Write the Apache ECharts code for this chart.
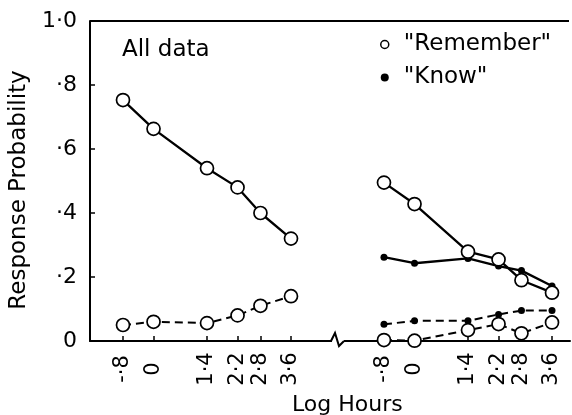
<!DOCTYPE html>
<html><head><meta charset="utf-8">
<script src="https://cdn.jsdelivr.net/npm/echarts@6/dist/echarts.min.js"></script>
<style>html,body{margin:0;padding:0;background:#fff}#c{width:572px;height:415px}</style>
</head><body><div id="c"></div>
<script>
const xTicks = [-0.8, 0, 1.4, 2.2, 2.8, 3.6];
const xTickLabels = ['-·8', '0', '1·4', '2·2', '2·8', '3·6'];
const yTickLabels = ['0', '·2', '·4', '·6', '·8', '1·0'];
// left panel ("All data")
const leftRemember = [0.753, 0.663, 0.54, 0.48, 0.40, 0.32];
const leftRememberLow = [0.05, 0.06, 0.056, 0.08, 0.11, 0.14];
// right panel
const rightRemember = [0.495, 0.428, 0.279, 0.255, 0.19, 0.151];
const rightKnow = [0.262, 0.243, 0.258, 0.234, 0.22, 0.172];
const rightKnowLow = [0.052, 0.063, 0.063, 0.083, 0.095, 0.095];
const rightRememberLow = [0.003, 0.001, 0.034, 0.053, 0.024, 0.058];

const FONT = 'DejaVu Sans';
const pairs = arr => xTicks.map((x, i) => [x, arr[i]]);
const xLabel = v => {
  const i = xTicks.findIndex(t => Math.abs(t - v) < 1e-6);
  return i >= 0 ? xTickLabels[i] : '';
};

function xAxis(gridIndex, min, max) {
  return {
    type: 'value', gridIndex, min, max, position: 'bottom',
    axisLine: { show: true, onZero: false, lineStyle: { color: '#000', width: 2 } },
    axisTick: { show: true, inside: true, length: 5, customValues: xTicks, lineStyle: { color: '#000', width: 1.5 } },
    axisLabel: { show: true, customValues: xTicks, rotate: 90, align: 'center', verticalAlign: 'middle', margin: 28,
      formatter: xLabel, color: '#000', fontSize: 21, fontFamily: FONT },
    splitLine: { show: false }
  };
}

const openSym = { color: '#fff', borderColor: '#000', borderWidth: 1.7 };
const fillSym = { color: '#000', borderColor: '#000', borderWidth: 0 };
function line(name, gi, arr, dashed, open) {
  return {
    type: 'line', name, xAxisIndex: gi, yAxisIndex: gi, data: pairs(arr),
    symbol: 'circle', symbolSize: open ? 13 : 7,
    itemStyle: open ? openSym : fillSym,
    lineStyle: { color: '#000', width: dashed ? 2 : 2.3, type: dashed ? [8, 5] : 'solid' },
    z: open ? 3 : 2
  };
}

const chart = echarts.init(document.getElementById('c'), null, { renderer: 'canvas' });
chart.setOption({
  animation: false,
  backgroundColor: '#fff',
  title: [
    { text: 'All data', left: 117, top: 34, textStyle: { fontSize: 23, fontWeight: 'normal', fontFamily: FONT, color: '#000' } },
    { text: 'Log Hours', left: 287, top: 389, textStyle: { fontSize: 22, fontWeight: 'normal', fontFamily: FONT, color: '#000' } }
  ],
  legend: {
    orient: 'vertical', left: 375, top: 28, itemWidth: 8, itemHeight: 8, itemGap: 10,
    textStyle: { fontSize: 23, fontFamily: FONT, color: '#000', padding: [0, 0, 0, 10] },
    data: [
      { name: '"Remember"', icon: 'circle', itemStyle: { color: '#fff', borderColor: '#000', borderWidth: 1.5 }, lineStyle: { width: 0, opacity: 0 } },
      { name: '"Know"', icon: 'circle', itemStyle: { color: '#000', borderWidth: 0 }, lineStyle: { width: 0, opacity: 0 } }
    ]
  },
  grid: [
    { left: 90, top: 21, width: 243, bottom: 74 },
    { left: 343, top: 21, width: 227, bottom: 74 }
  ],
  xAxis: [xAxis(0, -1.664, 4.70), xAxis(1, -1.873, 4.071)],
  yAxis: [
    {
      type: 'value', gridIndex: 0, min: 0, max: 1, interval: 0.2,
      name: 'Response Probability', nameLocation: 'middle', nameGap: 59,
      nameTextStyle: { fontSize: 23, fontFamily: FONT, color: '#000', padding: [0, 18, 0, 0] },
      axisLine: { show: true, onZero: false, lineStyle: { color: '#000', width: 2 } },
      axisTick: { show: true, inside: true, length: 5, lineStyle: { color: '#000', width: 1.5 } },
      axisLabel: { formatter: (v) => yTickLabels[Math.round(v / 0.2)], color: '#000', fontSize: 22, fontFamily: FONT, margin: 13 },
      splitLine: { show: false }
    },
    { type: 'value', gridIndex: 1, min: 0, max: 1, show: false, splitLine: { show: false } }
  ],
  graphic: [
    { type: 'line', shape: { x1: 90, y1: 21, x2: 569, y2: 21 }, style: { stroke: '#000', lineWidth: 2 } },
    { type: 'rect', shape: { x: 332, y: 330, width: 12, height: 20 }, style: { fill: '#fff' }, z: 50 },
    { type: 'polyline', shape: { points: [[331, 341], [335, 333], [339, 346], [344, 341]] }, style: { stroke: '#000', lineWidth: 2, fill: 'none' }, z: 51 }
  ],
  series: [
    line('"Remember"', 0, leftRemember, false, true),
    line('"Remember"', 0, leftRememberLow, true, true),
    line('"Know"', 1, rightKnow, false, false),
    line('"Know"', 1, rightKnowLow, true, false),
    line('"Remember"', 1, rightRemember, false, true),
    line('"Remember"', 1, rightRememberLow, true, true)
  ]
});
</script></body></html>
